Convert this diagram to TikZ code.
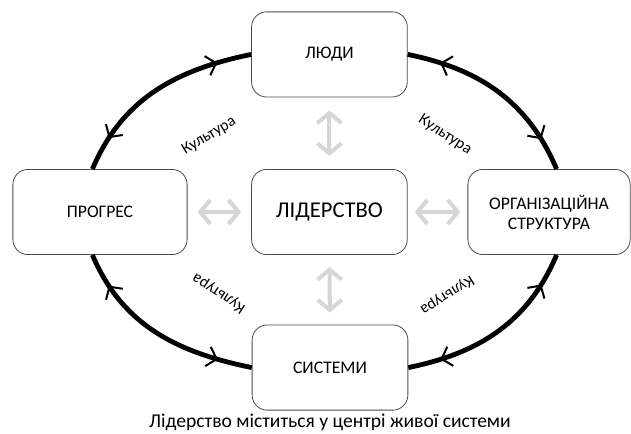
\documentclass[tikz,border=0pt]{standalone}
\usepackage{fontspec}
\setmainfont{Carlito}
\usetikzlibrary{positioning, arrows.meta, decorations.markings}

\tikzset{
  block/.style={draw=black!70, line width=0.8pt, rounded corners=15pt, fill=white,
    minimum width=5.45cm, minimum height=2.98cm, align=center,
    font=\fontsize{17.6}{20}\selectfont},
  cyclearc/.style={line width=4.8pt, postaction={decorate},
    decoration={markings,
      mark=at position 0.17 with {\arrowreversed{Straight Barb[length=9pt,width=20pt,line width=2pt]}},
      mark=at position 0.83 with {\arrow{Straight Barb[length=9pt,width=20pt,line width=2pt]}}}},
  greyarrow/.style={line width=4pt, draw=black!16,
    {Straight Barb[length=10pt,width=24pt]}-{Straight Barb[length=10pt,width=24pt]}},
  culture/.style={font=\fontsize{16}{18}\selectfont}
}

\begin{document}
\begin{tikzpicture}
                  \useasboundingbox (0,0) rectangle (22.085,15.155);

                  % Boxes
                  \node[block] (ljudy) at (11.53, 13.25) {ЛЮДИ};
                  \node[block, minimum width=6.1cm] (progres) at (3.5, 7.735) {ПРОГРЕС};
                  \node[block, font=\fontsize{22.5}{26}\selectfont] (lider) at (11.53, 7.735) {ЛІДЕРСТВО};
                  \node[block, minimum width=5.68cm] (org) at (19.215, 7.735) {ОРГАНІЗАЦІЙНА\\СТРУКТУРА};
                  \node[block] (systemy) at (11.55, 2.29) {СИСТЕМИ};
                  \node[font=\fontsize{19.5}{22}\selectfont] (caption) at (11.55, 0.38) {Лідерство міститься у центрі живої системи};

                  % Cycle
                  \foreach \a/\b/\o/\i in {progres.100/ljudy.west/67/191.5,
                                           ljudy.east/org.80/-11.5/113,
                                           org.-80/systemy.east/-113/11.5,
                                           systemy.west/progres.-100/168.5/-67}
                  \draw[cyclearc] (\a) to[out=\o, in=\i] (\b);

                  % Culture labels
                  \node[culture, rotate=31] (kult1) at (7.315, 10.395) {Культура};
                  \node[culture, rotate=-33] (kult2) at (15.575, 10.43) {Культура};
                  \node[culture, rotate=147] (kult3) at (7.665, 4.9) {Культура};
                  \node[culture, rotate=-148] (kult4) at (15.645, 4.83) {Культура};

                  % Centre arrows
                  \foreach \n/\s in {ljudy/13pt, systemy/12pt, progres/10pt, org/7pt}
                  \draw[greyarrow, shorten <=\s, shorten >=\s] (lider) -- (\n);

\end{tikzpicture}
\end{document}
